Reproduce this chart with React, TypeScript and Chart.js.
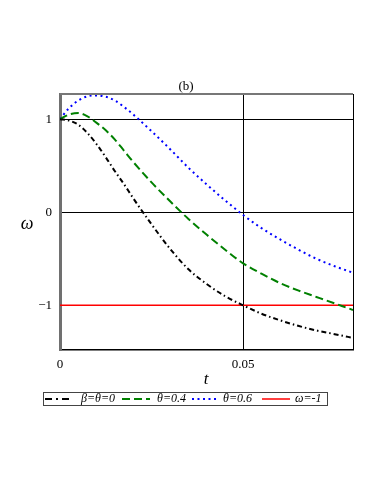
import React, { useEffect, useRef } from 'react';
import { Chart, registerables } from 'chart.js';
Chart.register(...registerables);

const tValues = [0, 0.0025, 0.005, 0.0075, 0.01, 0.0125, 0.015, 0.0175, 0.02, 0.025, 0.03, 0.035, 0.04, 0.045, 0.05, 0.055, 0.06, 0.065, 0.07, 0.075, 0.08];
const omegaBeta0 = [1, 0.985, 0.94, 0.85, 0.73, 0.59, 0.44, 0.3, 0.15, -0.13, -0.39, -0.61, -0.77, -0.9, -1.0, -1.09, -1.16, -1.22, -1.27, -1.31, -1.35];
const omegaTheta04 = [1, 1.05, 1.065, 1.03, 0.96, 0.88, 0.78, 0.66, 0.54, 0.32, 0.12, -0.07, -0.24, -0.4, -0.55, -0.66, -0.76, -0.84, -0.91, -0.98, -1.05];
const omegaTheta06 = [1, 1.12, 1.2, 1.245, 1.255, 1.24, 1.2, 1.13, 1.05, 0.87, 0.68, 0.48, 0.3, 0.13, -0.03, -0.17, -0.29, -0.4, -0.5, -0.58, -0.65];
const redT = [0, 0.08];
const omegaMinusOne = [-1, -1];
const xTicks = [0, 0.05];
const yTicks = [-1, 0, 1];
const seriesLabels = ['β=θ=0', 'θ=0.4', 'θ=0.6', 'ω=-1'];

const SERIF = "'Liberation Serif', 'DejaVu Serif', serif";

const toPts = (xs: number[], ys: number[]) => xs.map((x, i) => ({ x, y: ys[i] }));

const decorPlugin = {
  id: 'decor',
  afterDraw(chart: any) {
    const ctx = chart.ctx as CanvasRenderingContext2D;
    const a = chart.chartArea;
    ctx.save();
    // top and right frame
    ctx.strokeStyle = '#777';
    ctx.lineWidth = 2;
    ctx.beginPath();
    ctx.moveTo(a.left, a.top);
    ctx.lineTo(a.right, a.top);
    ctx.stroke();
    ctx.strokeStyle = '#000';
    ctx.lineWidth = 1;
    ctx.beginPath();
    ctx.moveTo(a.right + 0.5, a.top);
    ctx.lineTo(a.right + 0.5, a.bottom);
    ctx.stroke();
    // title
    ctx.fillStyle = '#000';
    ctx.font = `13px ${SERIF}`;
    ctx.textAlign = 'center';
    ctx.textBaseline = 'middle';
    ctx.fillText('(b)', 186, 87);
    // axis labels
    ctx.font = `italic 18px ${SERIF}`;
    ctx.fillText('ω', 27, 224);
    ctx.font = `italic 17px ${SERIF}`;
    ctx.fillText('t', 206, 380);
    // legend
    ctx.strokeStyle = '#444';
    ctx.lineWidth = 1;
    ctx.strokeRect(43.5, 392.5, 284, 13);
    const samples = [[45, 73, 81], [122, 150, 157], [192, 218, 223], [262, 290, 295]];
    const ly = 399;
    chart.data.datasets.forEach((ds: any, i: number) => {
      const [x1, x2, tx] = samples[i];
      ctx.save();
      ctx.strokeStyle = ds.borderColor;
      ctx.lineWidth = ds.borderWidth;
      ctx.setLineDash(i === 0 ? [7, 4, 2, 4] : ds.borderDash || []);
      ctx.beginPath();
      ctx.moveTo(x1, ly);
      ctx.lineTo(x2, ly);
      ctx.stroke();
      ctx.restore();
      ctx.fillStyle = '#000';
      ctx.font = `italic 12px ${SERIF}`;
      ctx.textAlign = 'left';
      ctx.textBaseline = 'middle';
      ctx.fillText(ds.label, tx, ly);
    });
    ctx.restore();
  },
};

export default function App() {
  const ref = useRef<HTMLCanvasElement | null>(null);
  useEffect(() => {
    if (!ref.current) return;
    const chart = new Chart(ref.current, {
      type: 'line',
      data: {
        datasets: [
          {
            label: seriesLabels[0],
            data: toPts(tValues, omegaBeta0),
            borderColor: '#000000',
            borderWidth: 2,
            borderDash: [5, 3, 1.5, 3],
            pointRadius: 0,
            cubicInterpolationMode: 'monotone',
            fill: false,
          },
          {
            label: seriesLabels[1],
            data: toPts(tValues, omegaTheta04),
            borderColor: '#008000',
            borderWidth: 2,
            borderDash: [8, 4],
            pointRadius: 0,
            cubicInterpolationMode: 'monotone',
            fill: false,
          },
          {
            label: seriesLabels[2],
            data: toPts(tValues, omegaTheta06),
            borderColor: '#0000ff',
            borderWidth: 2,
            borderDash: [2, 3.5],
            pointRadius: 0,
            cubicInterpolationMode: 'monotone',
            fill: false,
          },
          {
            label: seriesLabels[3],
            data: toPts(redT, omegaMinusOne),
            borderColor: '#ff0000',
            borderWidth: 1.5,
            pointRadius: 0,
            fill: false,
          },
        ],
      },
      options: {
        animation: false,
        responsive: false,
        layout: { padding: { top: 94, right: 29, left: 0, bottom: 0 } },
        plugins: { legend: { display: false }, title: { display: false }, tooltip: { enabled: false } },
        scales: {
          x: {
            type: 'linear',
            min: 0,
            max: 0.08,
            afterFit: (s: any) => { s.height = 144; },
            afterBuildTicks: (s: any) => { s.ticks = xTicks.map((v) => ({ value: v })); },
            ticks: {
              color: '#000',
              font: { family: SERIF, size: 13 },
              padding: 7,
              maxRotation: 0,
              callback: (v: any) => (v === 0 ? '0' : String(v)),
            },
            grid: { color: '#000', lineWidth: 1, drawTicks: false },
            border: { color: '#000', width: 1.5 },
          },
          y: {
            type: 'linear',
            min: -1.48,
            max: 1.27,
            afterFit: (s: any) => { s.width = 60; },
            afterBuildTicks: (s: any) => { s.ticks = yTicks.map((v) => ({ value: v })); },
            ticks: {
              color: '#000',
              font: { family: SERIF, size: 13 },
              padding: 8,
              callback: (v: any) => (v < 0 ? '−' + String(-v) : String(v)),
            },
            grid: { color: '#000', lineWidth: 1, drawTicks: false },
            border: { color: '#707070', width: 3 },
          },
        },
      },
      plugins: [decorPlugin],
    } as any);
    return () => chart.destroy();
  }, []);
  return (
    <div style={{ position: 'absolute', left: 0, top: 0, width: 382, height: 494, background: '#fff' }}>
      <canvas ref={ref} width={382} height={494} />
    </div>
  );
}
